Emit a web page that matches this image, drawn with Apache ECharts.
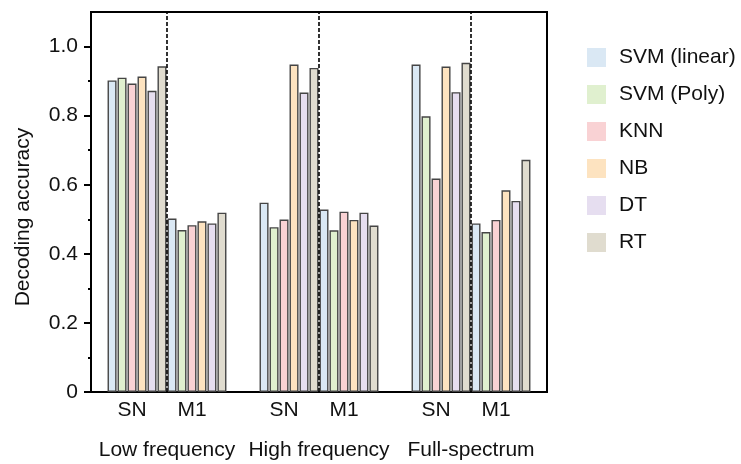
<!DOCTYPE html>
<html>
<head>
<meta charset="utf-8">
<script src="https://cdn.jsdelivr.net/npm/echarts@6/dist/echarts.min.js"></script>
<style>
	html, body { margin: 0; padding: 0; background: #ffffff; }
	#chart { width: 741px; height: 464px; }
</style>
</head>
<body>
<div id="chart"></div>
<script>
// 分组和方法
var groups = ['Low frequency', 'High frequency', 'Full-spectrum'];
var subGroups = ['SN', 'M1'];
var methods = ['SVM (linear)', 'SVM (Poly)', 'KNN', 'NB', 'DT', 'RT'];
var colors = ['#dae8f4', '#e0f0cf', '#f9d2d4', '#fde3c0', '#e6def0', '#e0dccf'];

// 每个方法: Low SN, Low M1, High SN, High M1, Full SN, Full M1
var svmLinear = [0.902, 0.502, 0.548, 0.528, 0.948, 0.488];
var svmPoly = [0.910, 0.469, 0.477, 0.468, 0.798, 0.463];
var knn = [0.893, 0.483, 0.499, 0.522, 0.618, 0.498];
var nb = [0.913, 0.494, 0.948, 0.498, 0.942, 0.584];
var dt = [0.872, 0.488, 0.867, 0.519, 0.868, 0.553];
var rt = [0.943, 0.519, 0.938, 0.482, 0.953, 0.672];

var yMajorTicks = [0, 0.2, 0.4, 0.6, 0.8, 1.0];
var yMinorTicks = [0.1, 0.3, 0.5, 0.7, 0.9];

var methodValues = [svmLinear, svmPoly, knn, nb, dt, rt];
var font = 'Liberation Sans, Arial, sans-serif';

// SN 在前六个, M1 在后六个
function buildSeries() {
	var series = [];
	for (var s = 0; s < subGroups.length; s++) {
		for (var m = 0; m < methods.length; m++) {
			var vals = methodValues[m];
			var data = [];
			for (var g = 0; g < groups.length; g++) {
				data.push(vals[g * 2 + s]);
			}
			series.push({
				name: methods[m],
				type: 'bar',
				barWidth: 9,
				barGap: '11%',
				data: data,
				itemStyle: {
					color: colors[m],
					borderColor: '#454545',
					borderWidth: 1.4
				}
			});
		}
	}
	// 虚线分隔 SN / M1 (放在空的折线系列上, 才能在类目中心)
	series.push({
		name: 'divider',
		type: 'line',
		data: [],
		markLine: {
			silent: true,
			symbol: 'none',
			label: { show: false },
			lineStyle: { type: [4, 2], color: '#000', width: 1.6 },
			data: groups.map(function (g) { return { xAxis: g }; })
		}
	});
	return series;
}

var chart = echarts.init(document.getElementById('chart'));
chart.setOption({
	backgroundColor: '#ffffff',
	animation: false,
	grid: {
		left: 91, right: 194, top: 12, bottom: 72,
		show: true, borderColor: '#000', borderWidth: 2
	},
	legend: {
		data: methods,
		orient: 'vertical',
		left: 582,
		top: 42,
		itemWidth: 19,
		itemHeight: 19,
		itemGap: 16,
		icon: 'rect',
		itemStyle: { borderWidth: 0 },
		textStyle: { fontFamily: font, fontSize: 21, color: '#111', padding: [0, 0, 0, 8] }
	},
	xAxis: {
		type: 'category',
		data: groups,
		axisLine: { lineStyle: { color: '#000', width: 2 } },
		axisTick: { show: false },
		axisLabel: {
			interval: 0,
			margin: 6,
			formatter: function (v) {
				return '{a|' + subGroups[0] + '}{b|' + subGroups[1] + '}{s|}\n{c|' + v + '}';
			},
			rich: {
				a: { width: 60, align: 'center', fontSize: 21, fontFamily: font, color: '#111', lineHeight: 24 },
				b: { width: 60, align: 'center', fontSize: 21, fontFamily: font, color: '#111', lineHeight: 24 },
				s: { width: 10, lineHeight: 24 },
				c: { fontSize: 21, fontFamily: font, color: '#111', lineHeight: 56 }
			}
		}
	},
	yAxis: [{
		type: 'value',
		min: 0,
		max: 1.1,
		interval: 0.1,
		name: 'Decoding accuracy',
		nameLocation: 'middle',
		nameGap: 57,
		nameTextStyle: { fontFamily: font, fontSize: 21, color: '#111', padding: [0, 30, 0, 0] },
		splitLine: { show: false },
		axisLine: { show: true, lineStyle: { color: '#000', width: 2 } },
		axisTick: { show: true, length: 7, customValues: yMajorTicks, lineStyle: { color: '#000', width: 2 } },
		axisLabel: {
			customValues: yMajorTicks,
			margin: 13,
			fontFamily: font, fontSize: 21, color: '#111',
			formatter: function (v) { return v === 0 ? '0' : v.toFixed(1); }
		}
	}, {
		// 次刻度
		type: 'value',
		position: 'left',
		min: 0,
		max: 1.1,
		interval: 0.1,
		splitLine: { show: false },
		axisLine: { show: false },
		axisLabel: { show: false },
		axisTick: { show: true, length: 3, customValues: yMinorTicks, lineStyle: { color: '#000', width: 2 } }
	}],
	series: buildSeries()
});
</script>
</body>
</html>
